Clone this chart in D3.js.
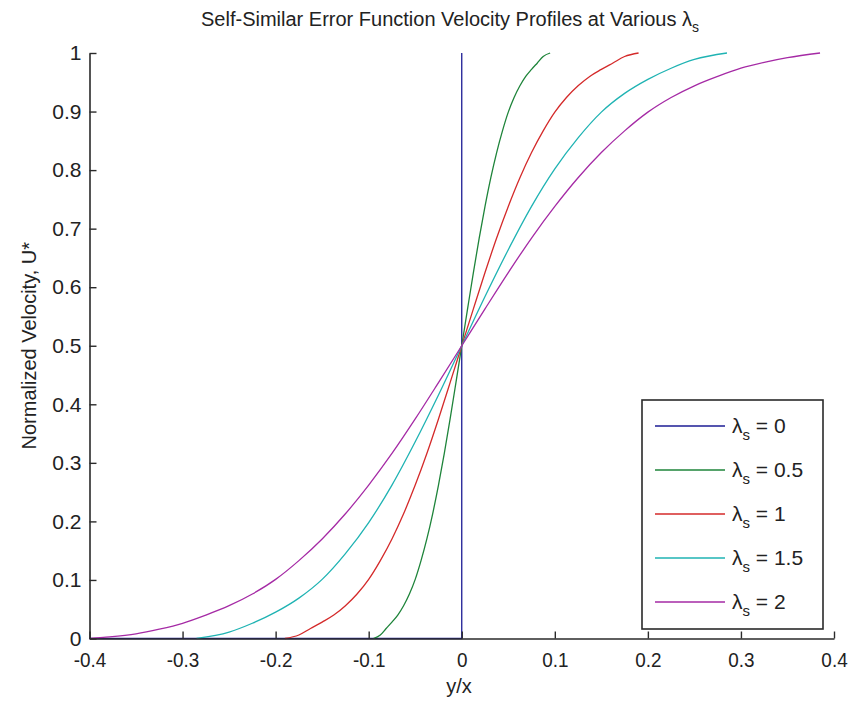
<!DOCTYPE html>
<html>
<head>
<meta charset="utf-8">
<script src="https://d3js.org/d3.v7.min.js"></script>
<style>
  body { margin: 0; background: #fff; }
  svg text { font-family: "Liberation Sans", Arial, sans-serif; fill: #222; }
</style>
</head>
<body>
<svg id="drawing_region"></svg>
<script>
// ---- data ----
const lambdas = ["0", "0.5", "1", "1.5", "2"];
const colors = ["#1c1c94", "#1e843a", "#d42a2a", "#1fb3b3", "#a52aa5"];

const x_l0 = [-0.4, 0, 0];
const u_l0 = [0, 0, 1];

const x_l05 = [-0.095, -0.0875, -0.08125, -0.075, -0.06875, -0.0625, -0.05625, -0.05, -0.04375, -0.0375, -0.03125, -0.025, -0.01875, -0.0125, -0.00625, 0,
               0.00625, 0.0125, 0.01875, 0.025, 0.03125, 0.0375, 0.04375, 0.05, 0.05625, 0.0625, 0.06875, 0.075, 0.08125, 0.0875, 0.095];
const u_l05 = [0, 0.006, 0.017, 0.028, 0.040, 0.056, 0.076, 0.101, 0.133, 0.170, 0.213, 0.262, 0.316, 0.375, 0.437, 0.5,
               0.563, 0.625, 0.684, 0.738, 0.787, 0.830, 0.867, 0.899, 0.924, 0.944, 0.960, 0.972, 0.983, 0.994, 1];

const x_l1 = [-0.19, -0.175, -0.1625, -0.15, -0.1375, -0.125, -0.1125, -0.1, -0.0875, -0.075, -0.0625, -0.05, -0.0375, -0.025, -0.0125, 0,
              0.0125, 0.025, 0.0375, 0.05, 0.0625, 0.075, 0.0875, 0.1, 0.1125, 0.125, 0.1375, 0.15, 0.1625, 0.175, 0.19];
const u_l1 = [0, 0.006, 0.017, 0.028, 0.040, 0.056, 0.076, 0.101, 0.133, 0.170, 0.213, 0.262, 0.316, 0.375, 0.437, 0.5,
              0.563, 0.625, 0.684, 0.738, 0.787, 0.830, 0.867, 0.899, 0.924, 0.944, 0.960, 0.972, 0.983, 0.994, 1];

const x_l15 = [-0.285, -0.25, -0.225, -0.2, -0.175, -0.15, -0.125, -0.1, -0.075, -0.05, -0.025, 0,
               0.025, 0.05, 0.075, 0.1, 0.125, 0.15, 0.175, 0.2, 0.225, 0.25, 0.285];
const u_l15 = [0, 0.011, 0.026, 0.045, 0.069, 0.101, 0.145, 0.198, 0.262, 0.336, 0.416, 0.5,
               0.584, 0.664, 0.738, 0.802, 0.855, 0.899, 0.931, 0.955, 0.974, 0.989, 1];

const x_l2 = [-0.4, -0.385, -0.35, -0.325, -0.3, -0.275, -0.25, -0.225, -0.2, -0.175, -0.15, -0.125, -0.1, -0.075, -0.05, -0.025, 0,
              0.025, 0.05, 0.075, 0.1, 0.125, 0.15, 0.175, 0.2, 0.225, 0.25, 0.275, 0.3, 0.325, 0.35, 0.385];
const u_l2 = [0, 0.002, 0.008, 0.016, 0.026, 0.040, 0.056, 0.076, 0.101, 0.133, 0.170, 0.213, 0.262, 0.316, 0.375, 0.437, 0.5,
              0.563, 0.625, 0.684, 0.738, 0.787, 0.830, 0.867, 0.899, 0.924, 0.944, 0.960, 0.974, 0.984, 0.992, 1];

const x_ticks = [-0.4, -0.3, -0.2, -0.1, 0, 0.1, 0.2, 0.3, 0.4];
const y_ticks = [0, 0.1, 0.2, 0.3, 0.4, 0.5, 0.6, 0.7, 0.8, 0.9, 1];

const series = [
    { name: lambdas[0], x: x_l0, u: u_l0 },
    { name: lambdas[1], x: x_l05, u: u_l05 },
    { name: lambdas[2], x: x_l1, u: u_l1 },
    { name: lambdas[3], x: x_l15, u: u_l15 },
    { name: lambdas[4], x: x_l2, u: u_l2 }
];

// ---- chart ----
const config = {
    width: 848,
    height: 702,
    margin: { top: 53, right: 14, bottom: 63.5, left: 89.5 }
};

const svg = d3.select('#drawing_region')
    .attr('width', config.width)
    .attr('height', config.height);

const inner_width = config.width - config.margin.left - config.margin.right;
const inner_height = config.height - config.margin.top - config.margin.bottom;

const chart = svg.append('g')
    .attr('transform', `translate(${config.margin.left}, ${config.margin.top})`);

const xscale = d3.scaleLinear().domain([-0.4, 0.4]).range([0, inner_width]);
const yscale = d3.scaleLinear().domain([0, 1]).range([inner_height, 0]);

// plain hyphen labels like MATLAB
const fmt = d => d === 0 ? '0' : (d === 1 ? '1' : d.toFixed(1));

// curves
const line = d3.line()
    .x(d => xscale(d[0]))
    .y(d => yscale(d[1]))
    .curve(d3.curveMonotoneX);
const stepline = d3.line()
    .x(d => xscale(d[0]))
    .y(d => yscale(d[1]));

series.forEach((s, i) => {
    const pts = s.x.map((v, k) => [v, s.u[k]]);
    chart.append('path')
        .attr('d', i === 0 ? stepline(pts) : line(pts))
        .attr('fill', 'none')
        .attr('stroke', colors[i])
        .attr('stroke-width', 1.3);
});

// axes (ticks pointing inward, no box)
const xaxis = d3.axisBottom(xscale)
    .tickValues(x_ticks)
    .tickFormat(fmt)
    .tickSizeInner(-7)
    .tickSizeOuter(0)
    .tickPadding(14);
const yaxis = d3.axisLeft(yscale)
    .tickValues(y_ticks)
    .tickFormat(fmt)
    .tickSizeInner(-7)
    .tickSizeOuter(0)
    .tickPadding(8);

const xaxis_group = chart.append('g')
    .attr('transform', `translate(0, ${inner_height})`)
    .call(xaxis);
const yaxis_group = chart.append('g').call(yaxis);

[xaxis_group, yaxis_group].forEach(g => {
    g.attr('font-family', null).attr('font-size', null);
    g.select('.domain').attr('stroke', '#2a2a2a').attr('stroke-width', 1.6);
    g.selectAll('.tick line').attr('stroke', '#2a2a2a').attr('stroke-width', 1.4);
    g.selectAll('.tick text').style('font-size', '21px').style('fill', '#222');
});
// x labels look a bit narrower in the original
xaxis_group.selectAll('.tick text').attr('transform', 'scale(0.9,1)');

// title
const title = svg.append('text')
    .attr('x', 450)
    .attr('y', 26)
    .attr('text-anchor', 'middle')
    .style('font-size', '20px')
    .text('Self-Similar Error Function Velocity Profiles at Various λ');
title.append('tspan').attr('dy', 6).style('font-size', '14px').text('s');

// axis labels
svg.append('text')
    .attr('x', 459)
    .attr('y', 693)
    .attr('text-anchor', 'middle')
    .style('font-size', '20px')
    .text('y/x');

svg.append('text')
    .attr('transform', `translate(36, ${config.margin.top + inner_height / 2}) rotate(-90)`)
    .attr('text-anchor', 'middle')
    .style('font-size', '20px')
    .text('Normalized Velocity, U*');

// legend
const legend = svg.append('g').attr('transform', 'translate(642, 400)');
legend.append('rect')
    .attr('width', 181)
    .attr('height', 229)
    .attr('fill', '#fff')
    .attr('stroke', '#2a2a2a')
    .attr('stroke-width', 1.6);

lambdas.forEach((lam, i) => {
    const yy = 26 + i * 44;
    legend.append('line')
        .attr('x1', 13).attr('x2', 83)
        .attr('y1', yy).attr('y2', yy)
        .attr('stroke', colors[i])
        .attr('stroke-width', 1.3);
    const t = legend.append('text')
        .attr('x', 90)
        .attr('y', yy + 7)
        .style('font-size', '21px')
        .text('λ');
    t.append('tspan').attr('dy', 7).style('font-size', '15px').text('s');
    t.append('tspan').attr('dy', -7).text(' = ' + lam);
});
</script>
</body>
</html>
